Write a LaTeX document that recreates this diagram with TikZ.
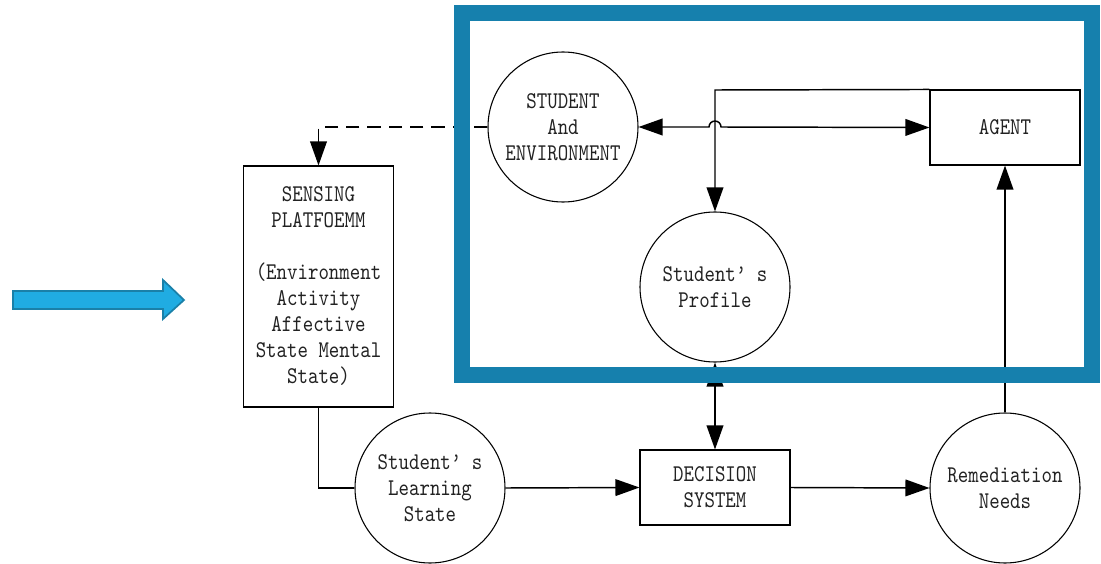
\documentclass[tikz,border=0pt]{standalone}
\usepackage{fontspec}
\newfontfamily\dfont[FakeStretch=0.83]{lmmono10-regular.otf}
\usetikzlibrary{arrows.meta}
\definecolor{frameblue}{HTML}{1680AD}
\definecolor{arrowfill}{HTML}{20ACE2}
\definecolor{arrowline}{HTML}{1A80A8}
\definecolor{ink}{HTML}{222222}
\begin{document}
\begin{tikzpicture}[x=0.75pt,y=-0.75pt,
  lbl/.style={font=\dfont\fontsize{18pt}{19.5pt}\selectfont, align=center, text=ink},
  circ/.style={lbl, draw, circle, minimum size=112.5pt, inner sep=0pt, line width=0.8pt},
  boxn/.style={lbl, draw, rectangle, minimum width=112.5pt, minimum height=56.25pt, inner sep=0pt, line width=0.8pt},
  tip/.tip={Triangle[length=18pt,width=12.5pt]},
  conn/.style={line width=1.1pt, -tip},
  biconn/.style={line width=1.1pt, tip-tip},
  plain/.style={line width=1.1pt},
  dashconn/.style={line width=1.1pt, dash pattern=on 10pt off 6pt, -tip}]
\useasboundingbox (0,0) rectangle (1101,564);

% blue arrow
\draw[fill=arrowfill, draw=arrowline, line width=1.3pt] (13,291) -- (163,291) -- (163,280) -- (184,300) -- (163,319) -- (163,309) -- (13,309) -- cycle;

% nodes
\node[circ] (se) at (563,127) {STUDENT\\And\\ENVIRONMENT};
\node[boxn] (agent) at (1005,127.5) {AGENT};
\node[circ] (prof) at (715,287) {Student’ s\\Profile};
\node[lbl, draw, rectangle, minimum width=112.5pt, minimum height=180.75pt, inner sep=0pt, line width=0.8pt] (sense) at (318.5,286.5)
  {SENSING\\PLATFOEMM\\[19.5pt](Environment\\Activity\\Affective\\State Mental\\State)};
\node[circ] (learn) at (430,488) {Student’ s\\Learning\\State};
\node[boxn] (dec) at (715,487.5) {DECISION\\SYSTEM};
\node[circ] (rem) at (1005,488) {Remediation\\Needs};
\coordinate (corner) at (715,90);

% connectors
\draw[dashconn] (se.west) -| (sense.north);
\draw[biconn] (se.east) -- (709,127) arc (180:360:6) -- (agent.west);
\draw[conn] (agent.north west) -- (corner) -- (prof.north);
\draw[biconn] (prof.south) -- (dec.north);
\draw[plain] (sense.south) |- (learn.west);
\draw[conn] (learn.east) -- (dec.west);
\draw[conn] (dec.east) -- (rem.west);
\draw[conn] (rem.north) -- (agent.south);

% blue frame
\draw[draw=frameblue, line width=12.5pt] (462,13) rectangle (1092,375);
\end{tikzpicture}
\end{document}
